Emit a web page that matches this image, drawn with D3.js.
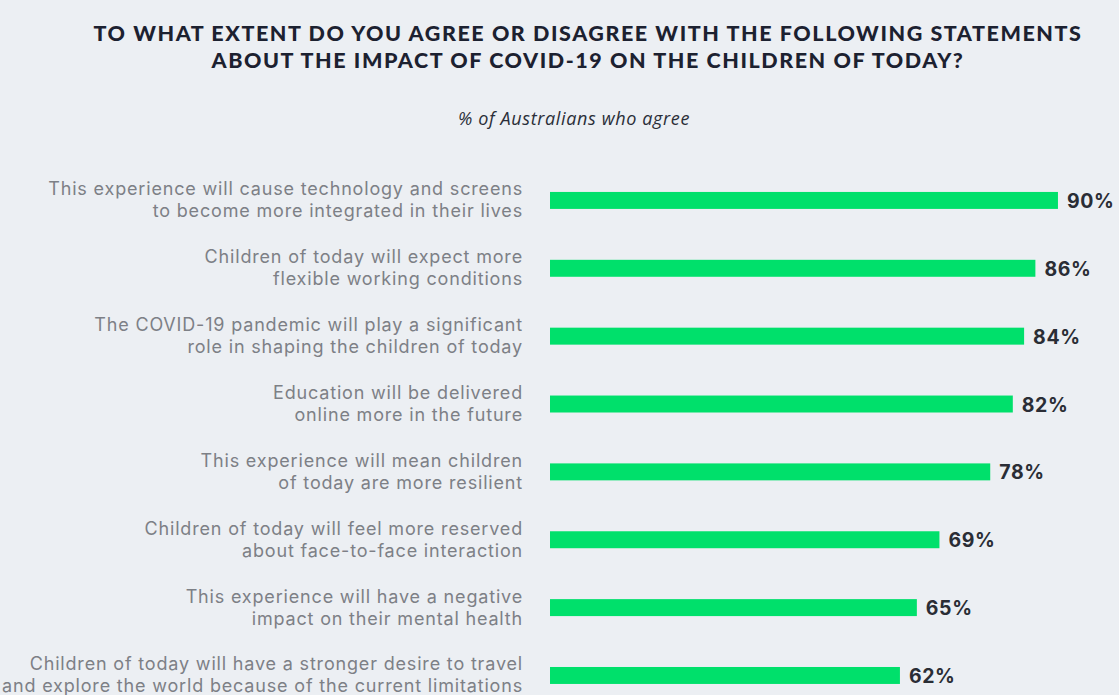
<!DOCTYPE html>
<html>
<head>
<meta charset="utf-8">
<script src="https://cdn.jsdelivr.net/npm/d3@7"></script>
<style>
  html, body { margin: 0; padding: 0; background: #eceff3; }
  svg { display: block; }
</style>
</head>
<body>
<svg id="chart" width="1119" height="695"></svg>
<script>
// Survey question and subheading
const titleLines = [
  "TO WHAT EXTENT DO YOU AGREE OR DISAGREE WITH THE FOLLOWING STATEMENTS",
  "ABOUT THE IMPACT OF COVID-19 ON THE CHILDREN OF TODAY?"
];
const subtitle = "% of Australians who agree";

// Statements (two lines each) and share who agree
const statements = [
  ["This experience will cause technology and screens", "to become more integrated in their lives"],
  ["Children of today will expect more", "flexible working conditions"],
  ["The COVID-19 pandemic will play a significant", "role in shaping the children of today"],
  ["Education will be delivered", "online more in the future"],
  ["This experience will mean children", "of today are more resilient"],
  ["Children of today will feel more reserved", "about face-to-face interaction"],
  ["This experience will have a negative", "impact on their mental health"],
  ["Children of today will have a stronger desire to travel", "and explore the world because of the current limitations"]
];
const agreePct = [90, 86, 84, 82, 78, 69, 65, 62];

const svg = d3.select("#chart");
const W = 1119, H = 695;
const bodyFont = "Inter, 'Open Sans', sans-serif";

// Widen tracking so the widest of `lineNodes` spans `width` px
function track(textSel, lineNodes, width) {
  const longest = d3.greatest(lineNodes, n => n.getComputedTextLength());
  const w0 = longest.getComputedTextLength();
  textSel.attr("letter-spacing", Math.max(0, (width - w0) / longest.textContent.length));
}

svg.append("rect").attr("width", W).attr("height", H).attr("fill", "#eceff3");

// Title
const title = svg.append("text")
  .attr("text-anchor", "middle")
  .attr("font-family", "Lato, sans-serif")
  .attr("font-weight", 900)
  .attr("font-size", 21.5)
  .attr("fill", "#1c2130");
const tsp = title.selectAll("tspan").data(titleLines).join("tspan")
  .attr("x", 588)
  .attr("y", (d, i) => 41 + i * 27)
  .text(d => d);
track(title, [tsp.nodes()[0]], 989);

const sub = svg.append("text")
  .attr("x", 574).attr("y", 125)
  .attr("text-anchor", "middle")
  .attr("font-family", "'Open Sans', sans-serif")
  .attr("font-style", "italic")
  .attr("font-size", 18)
  .attr("fill", "#2a2e38")
  .text(subtitle);
track(sub, [sub.node()], 232);

// Scales
const x = d3.scaleLinear().domain([0, 100]).range([550, 550 + 564.4]);
const y = d3.scaleBand()
  .domain(d3.range(statements.length))
  .range([166.5, 709.4])
  .paddingInner(0.75)
  .paddingOuter(0.375);

// Bars
svg.append("g").selectAll("rect").data(agreePct).join("rect")
  .attr("x", x(0))
  .attr("y", (d, i) => y(i))
  .attr("width", d => x(d) - x(0))
  .attr("height", y.bandwidth())
  .attr("fill", "#00e06b");

// Value labels
const val = svg.append("g")
  .attr("font-family", bodyFont)
  .attr("font-weight", 700)
  .attr("font-size", 19.5)
  .attr("fill", "#2a2d35");
val.selectAll("text").data(agreePct).join("text")
  .attr("x", d => x(d) + 9)
  .attr("y", (d, i) => y(i) + y.bandwidth() / 2 + 7.5)
  .attr("letter-spacing", 0.6)
  .text(d => d + "%");

// Statement labels, right-aligned against the bars
const lab = svg.append("g")
  .attr("font-family", bodyFont)
  .attr("font-size", 18)
  .attr("fill", "#7d8086");
const labText = lab.selectAll("text").data(statements).join("text")
  .attr("text-anchor", "end");
const labLines = labText.selectAll("tspan").data((d, i) => d.map(t => ({ t, i }))).join("tspan")
  .attr("x", 523)
  .attr("y", (d, j) => y(d.i) + y.bandwidth() / 2 - 5 + j * 22)
  .text(d => d.t);
track(lab, labLines.nodes(), 521);
</script>
</body>
</html>
